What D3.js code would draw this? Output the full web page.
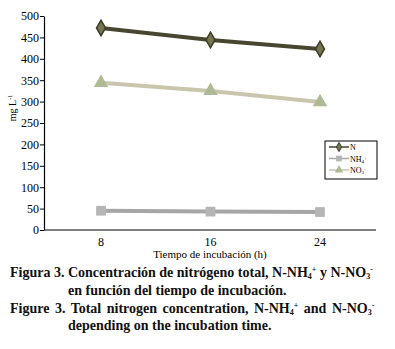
<!DOCTYPE html>
<html><head><meta charset="utf-8">
<script src="https://cdn.jsdelivr.net/npm/d3@7"></script>
<style>body{margin:0;background:#fff}svg{display:block}</style>
</head><body>
<svg id="c" width="395" height="349"></svg>
<script>
const hours = [8, 16, 24];
const nTotal = [472, 444, 423];
const nh4 = [45, 43, 42];
const no3 = [344, 325, 299];
const yTicks = [0, 50, 100, 150, 200, 250, 300, 350, 400, 450, 500];

const svg = d3.select("#c");
const font = "'Liberation Serif', 'Times New Roman', serif";
const x = d3.scalePoint().domain(hours).range([101, 320]);
const y = d3.scaleLinear().domain([0, 500]).range([230, 16]);

// axes
const ya = svg.append("g").attr("transform", "translate(44,0)")
  .call(d3.axisLeft(y).tickValues(yTicks).tickSize(4).tickSizeOuter(0));
ya.select(".domain").attr("stroke", "#000").attr("stroke-width", 1.2);
ya.selectAll("text").attr("font-family", font).attr("font-size", 12).attr("fill", "#000").attr("dx", 2);
const xa = svg.append("g").attr("transform", "translate(0,230)");
xa.append("line").attr("x1", 44).attr("x2", 376).attr("stroke", "#000").attr("stroke-width", 1.2);
xa.selectAll("text").data(hours).join("text")
  .attr("x", d => x(d)).attr("y", 16).attr("text-anchor", "middle")
  .attr("font-family", font).attr("font-size", 12).text(d => d);

svg.append("text").attr("x", 210).attr("y", 258).attr("text-anchor", "middle")
  .attr("font-family", font).attr("font-size", 11).text("Tiempo de incubación (h)");
const yl = svg.append("text").attr("transform", "translate(16,108) rotate(-90)")
  .attr("text-anchor", "middle").attr("font-family", font).attr("font-size", 10);
yl.append("tspan").text("mg L");
yl.append("tspan").attr("font-size", 6).attr("dy", -4).text("-1");

const series = [
  {name: "N", vals: nTotal, line: "#47472f", shape: d3.symbolDiamond, fill: "#76764e", stroke: "#3a3a28", size: 70},
  {name: "NH4", vals: nh4, line: "#a6a6a6", shape: d3.symbolSquare, fill: "#b5b5b5", stroke: "none", size: 95},
  {name: "NO3", vals: no3, line: "#c9c6ad", shape: d3.symbolTriangle, fill: "#aeb995", stroke: "none", size: 90}
];
const line = d3.line().x(d => x(d[0])).y(d => y(d[1]));
series.forEach(s => {
  const pts = hours.map((h, i) => [h, s.vals[i]]);
  svg.append("path").attr("d", line(pts)).attr("fill", "none").attr("stroke", s.line).attr("stroke-width", 4);
  svg.selectAll(null).data(pts).join("path")
    .attr("transform", d => `translate(${x(d[0])},${y(d[1])})`)
    .attr("d", d3.symbol().type(s.shape).size(s.size)())
    .attr("fill", s.fill).attr("stroke", s.stroke).attr("stroke-width", 1.5);
});

// legend
const lg = svg.append("g");
lg.append("rect").attr("x", 325).attr("y", 141).attr("width", 52).attr("height", 38)
  .attr("fill", "#fff").attr("stroke", "#000").attr("stroke-width", 1);
series.forEach((s, i) => {
  const ly = 147 + i * 11.5;
  lg.append("line").attr("x1", 329).attr("x2", 349).attr("y1", ly).attr("y2", ly).attr("stroke", s.line).attr("stroke-width", 1.5);
  lg.append("path").attr("transform", `translate(339,${ly})`).attr("d", d3.symbol().type(s.shape).size(s.size * 0.35)())
    .attr("fill", s.fill).attr("stroke", s.stroke).attr("stroke-width", 1);
  const t = lg.append("text").attr("x", 350).attr("y", ly + 3).attr("font-family", font).attr("font-size", 8);
  if (s.name === "N") t.text("N");
  else {
    t.append("tspan").text(s.name === "NH4" ? "NH" : "NO");
    t.append("tspan").attr("font-size", 5).attr("dy", 1).text(s.name === "NH4" ? "4" : "3");
    t.append("tspan").attr("font-size", 5).attr("dy", -3).text(s.name === "NH4" ? "+" : "-");
  }
});

// caption
const cap = [
  {x: 10, y: 277, ws: 0, parts: [["Figura 3. Concentración de nitrógeno total, N-NH"], ["4", "sub"], ["+", "sup"], [" y N-NO"], ["3", "sub"], ["-", "sup"]]},
  {x: 68, y: 295, ws: 0, parts: [["en función del tiempo de incubación."]]},
  {x: 10, y: 313, ws: 2, parts: [["Figure 3. Total nitrogen concentration, N-NH"], ["4", "sub"], ["+", "sup"], [" and N-NO"], ["3", "sub"], ["-", "sup"]]},
  {x: 68, y: 330, ws: 0, parts: [["depending on the incubation time."]]}
];
cap.forEach(c => {
  const t = svg.append("text").attr("x", c.x).attr("y", c.y).attr("font-family", font)
    .attr("font-size", 14).attr("font-weight", "bold").attr("fill", "#111")
    .attr("word-spacing", c.ws);
  let base = 0;
  c.parts.forEach(p => {
    const sp = t.append("tspan").text(p[0]);
    let target = 0;
    if (p[1] === "sub") { sp.attr("font-size", 8); target = 2; }
    else if (p[1] === "sup") { sp.attr("font-size", 8); target = -5; }
    sp.attr("dy", target - base); base = target;
  });
});
</script>
</body></html>
